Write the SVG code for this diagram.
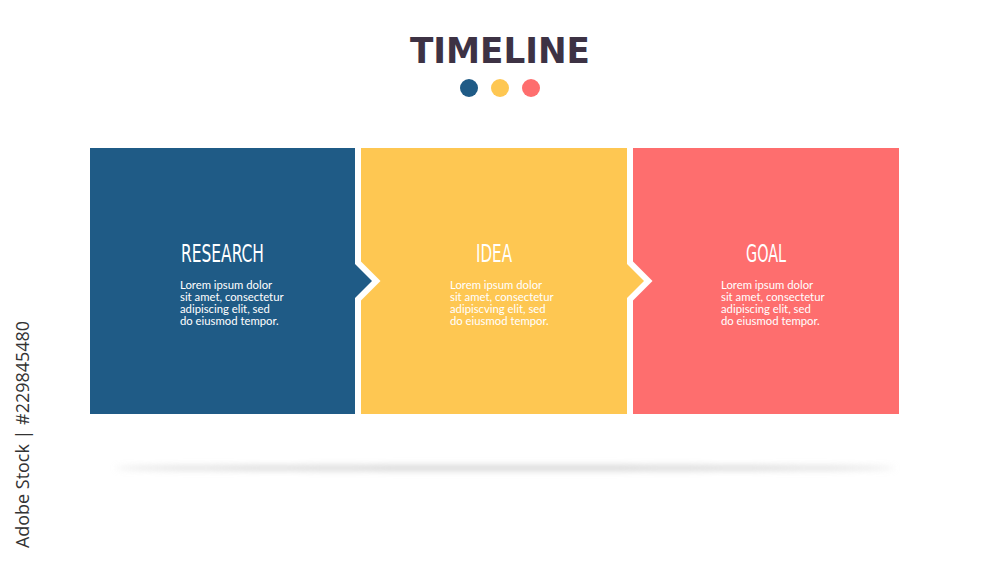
<svg xmlns="http://www.w3.org/2000/svg" width="1000" height="563" viewBox="0 0 1000 563">
<defs>
<filter id="blur" x="-10%" y="-300%" width="120%" height="700%"><feGaussianBlur stdDeviation="3"/></filter>
<style>
.title{font-family:"DejaVu Sans","Liberation Sans",sans-serif;font-weight:bold;font-size:35px;fill:#3d3244}
.head{font-family:"DejaVu Sans Condensed","DejaVu Sans","Liberation Sans",sans-serif;font-size:24px;fill:#ffffff;text-anchor:middle}
.body{font-family:Lato,"Liberation Sans",sans-serif;font-size:11.3px;fill:#ffffff}
.side{font-family:"Open Sans","Liberation Sans",sans-serif;font-size:18px;fill:#333333}
</style>
</defs>
<rect width="1000" height="563" fill="#ffffff"/>
<ellipse cx="505" cy="468" rx="390" ry="2.5" fill="#cfcfcf" filter="url(#blur)"/>
<g id="title">
<text class="title" x="500" y="63" text-anchor="middle" textLength="180" lengthAdjust="spacingAndGlyphs">TIMELINE</text>
<circle cx="469" cy="88" r="9" fill="#1f5b86"/>
<circle cx="500" cy="88" r="9" fill="#fec752"/>
<circle cx="531" cy="88" r="9" fill="#fe6e6e"/>
</g>
<g id="connectors"></g>
<g id="goal">
<path d="M633,148 H899 V414 H633 V300.5 L652.5,281 L633,261.5 Z" fill="#fe6e6e"/>
<text class="head" x="766" y="262" textLength="40" lengthAdjust="spacingAndGlyphs">GOAL</text>
<text class="body" x="721" y="289">Lorem ipsum dolor</text>
<text class="body" x="721" y="301">sit amet, consectetur</text>
<text class="body" x="721" y="313">adipiscing elit, sed</text>
<text class="body" x="721" y="325">do eiusmod tempor.</text>
</g>
<g id="idea">
<path d="M361,148 H627 V264 L644,281 L627,298 V414 H361 V300.5 L380.5,281 L361,261.5 Z" fill="#fec752"/>
<text class="head" x="494" y="262" textLength="36" lengthAdjust="spacingAndGlyphs">IDEA</text>
<text class="body" x="450" y="289">Lorem ipsum dolor</text>
<text class="body" x="450" y="301">sit amet, consectetur</text>
<text class="body" x="450" y="313">adipiscving elit, sed</text>
<text class="body" x="450" y="325">do eiusmod tempor.</text>
</g>
<g id="research">
<path d="M90,148 H355 V264 L372,281 L355,298 V414 H90 Z" fill="#1f5b86"/>
<text class="head" x="222.5" y="262" textLength="83" lengthAdjust="spacingAndGlyphs">RESEARCH</text>
<text class="body" x="180" y="289">Lorem ipsum dolor</text>
<text class="body" x="180" y="301">sit amet, consectetur</text>
<text class="body" x="180" y="313">adipiscing elit, sed</text>
<text class="body" x="180" y="325">do eiusmod tempor.</text>
</g>
<text class="side" transform="translate(29,548) rotate(-90)" textLength="227" lengthAdjust="spacingAndGlyphs">Adobe Stock | #229845480</text>
</svg>
